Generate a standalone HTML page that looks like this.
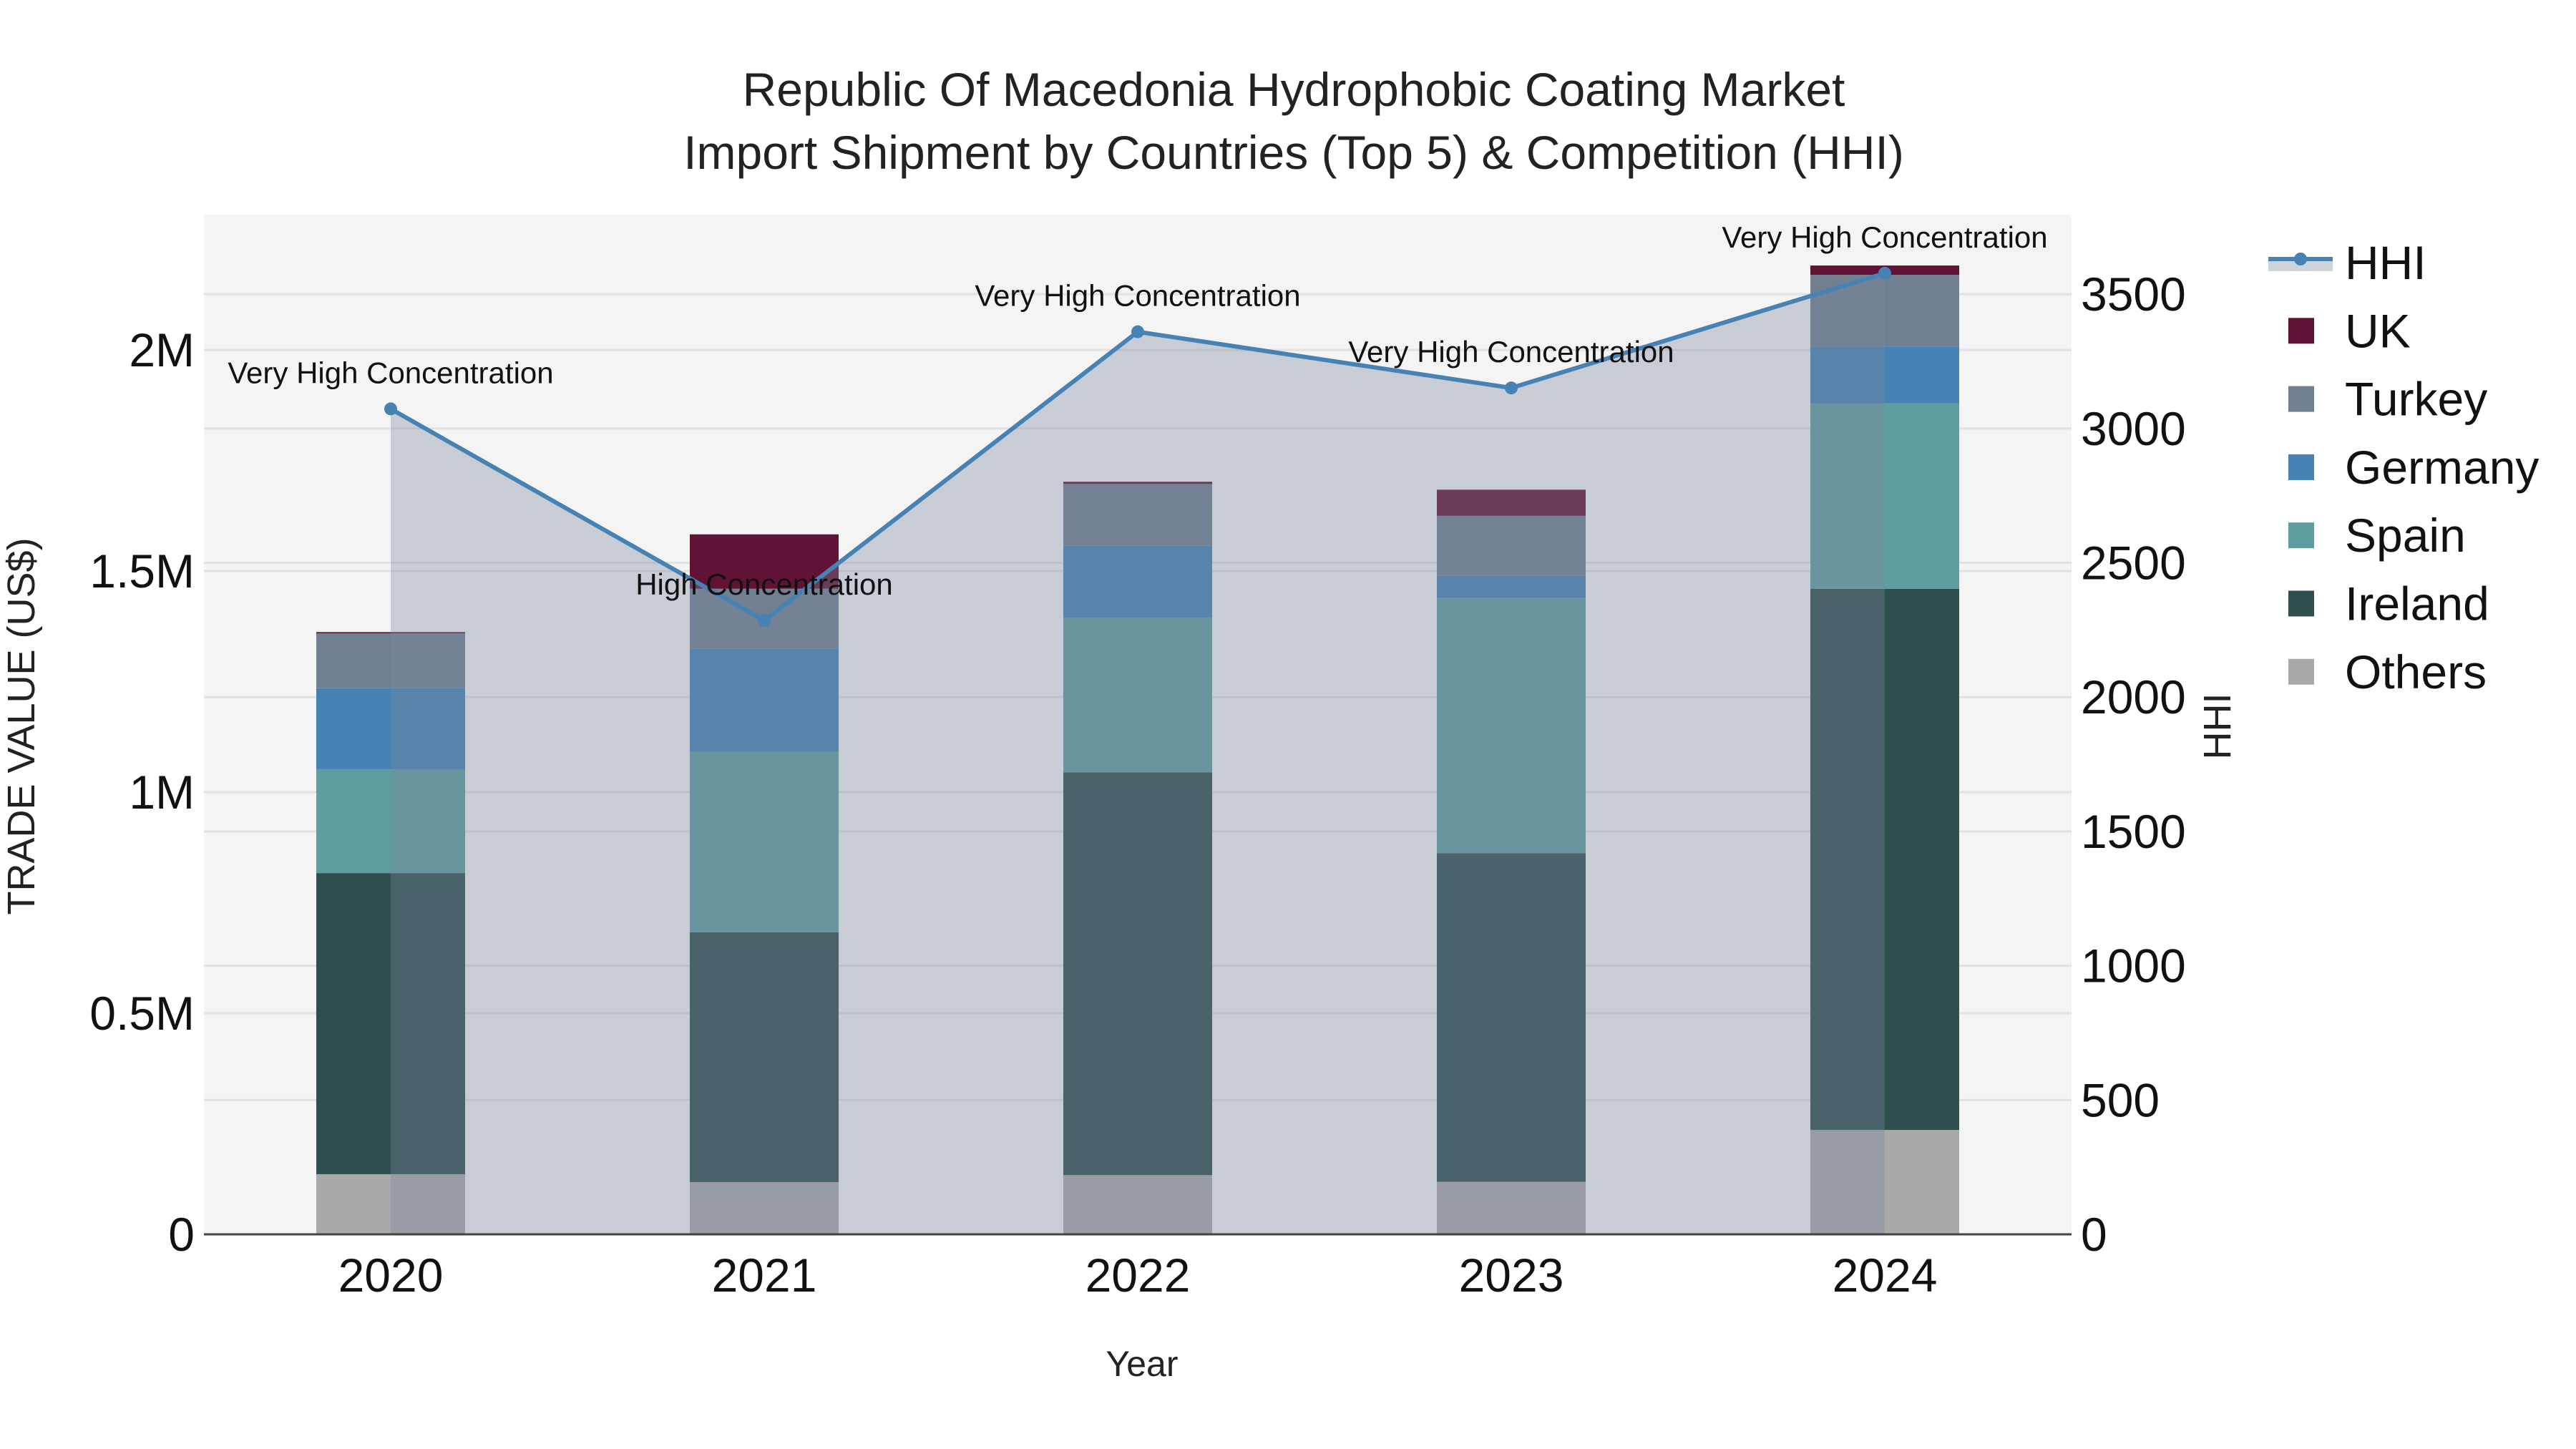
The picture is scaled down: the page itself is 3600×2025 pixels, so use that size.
<!DOCTYPE html>
<html><head><meta charset="utf-8"><style>
html,body{margin:0;padding:0;background:#fff;}
svg{display:block;font-family:"Liberation Sans",sans-serif;}
</style></head><body>
<svg id="chart" width="3600" height="2025" viewBox="0 0 3600 2025" xmlns="http://www.w3.org/2000/svg">
<rect x="285" y="300" width="2610" height="1425" fill="#f4f4f4"/>
<g id="grid"></g>
<g id="bars"></g>
<g id="hhi"></g>
<g id="axes"></g>
<text x="1808" y="148" font-size="66" text-anchor="middle" fill="#222">Republic Of Macedonia Hydrophobic Coating Market</text>
<text x="1808" y="236" font-size="66" text-anchor="middle" fill="#222">Import Shipment by Countries (Top 5) &amp; Competition (HHI)</text>
<text x="1596" y="1923" font-size="50" text-anchor="middle" fill="#222">Year</text>
<text transform="translate(48,1015) rotate(-90)" font-size="54" text-anchor="middle" fill="#222">TRADE VALUE (US$)</text>
<text transform="translate(3117,1015) rotate(-90)" font-size="54" text-anchor="middle" fill="#222">HHI</text>
<g id="legend"></g>
</svg>
<script>
const years = ["2020","2021","2022","2023","2024"];
const others  = [0.136, 0.118, 0.134, 0.119, 0.236];
const ireland = [0.681, 0.565, 0.911, 0.743, 1.224];
const spain   = [0.235, 0.408, 0.350, 0.577, 0.419];
const germany = [0.183, 0.234, 0.163, 0.050, 0.129];
const turkey  = [0.124, 0.135, 0.139, 0.136, 0.162];
const uk      = [0.003, 0.123, 0.005, 0.059, 0.021];
const hhi     = [3073, 2285, 3360, 3151, 3578];
const hhiLabels = ["Very High Concentration","High Concentration","Very High Concentration","Very High Concentration","Very High Concentration"];
const yTicks = [0, 0.5, 1, 1.5, 2];
const yTickLabels = ["0","0.5M","1M","1.5M","2M"];
const y2Ticks = [0,500,1000,1500,2000,2500,3000,3500];

const NS="http://www.w3.org/2000/svg";
const L=285,R=2895,T=300,B=1725;
const yMax=2.306, y2Max=3796;
const band=(R-L)/years.length, barW=208;
const xC=i=>L+band*(i+0.5);
const yS=v=>B-(v/yMax)*(B-T);
const y2S=v=>B-(v/y2Max)*(B-T);
function mk(tag,attrs,parent){const e=document.createElementNS(NS,tag);for(const k in attrs)e.setAttribute(k,attrs[k]);parent.appendChild(e);return e;}
const grid=document.getElementById('grid');
yTicks.forEach((t,i)=>{const l=mk('line',{x1:L,x2:R,y1:yS(t),y2:yS(t),stroke:'#e2e2e2','stroke-width':3},grid);

});
y2Ticks.forEach(t=>{const l=mk('line',{x1:L,x2:R,y1:y2S(t),y2:y2S(t),stroke:'#e2e2e2','stroke-width':3},grid);

});
const series=[["Others",others,"#a9a9a9"],["Ireland",ireland,"#2f4f4f"],["Spain",spain,"#5f9ea0"],["Germany",germany,"#4682b4"],["Turkey",turkey,"#708090"],["UK",uk,"#611335"]];
const bars=document.getElementById('bars');
years.forEach((yr,i)=>{let base=0;series.forEach(s=>{const v=s[1][i];const r=mk('rect',{x:xC(i)-barW/2,y:yS(base+v),width:barW,height:yS(base)-yS(base+v),fill:s[2]},bars);


base+=v;});});
const hg=document.getElementById('hhi');
let pts=hhi.map((v,i)=>xC(i)+','+y2S(v)).join(' ');
const area=mk('polygon',{points:xC(0)+','+B+' '+pts+' '+xC(hhi.length-1)+','+B,fill:'rgba(122,133,155,0.36)'},hg);


const line=mk('polyline',{points:pts,fill:'none',stroke:'#4682b4','stroke-width':6},hg);


hhi.forEach((v,i)=>{const c=mk('circle',{cx:xC(i),cy:y2S(v),r:9,fill:'#4682b4'},hg);


const t=mk('text',{x:xC(i),y:y2S(v)-36,'font-size':42,'text-anchor':'middle',fill:'#111'},hg);
t.textContent=hhiLabels[i];

});
const ax=document.getElementById('axes');
const zl=mk('line',{x1:L,x2:R,y1:B,y2:B,stroke:'#444','stroke-width':3},ax);


yTicks.forEach((t,i)=>{const e=mk('text',{x:272,y:yS(t)+23,'font-size':66,'text-anchor':'end',fill:'#111'},ax);e.textContent=yTickLabels[i];

});
y2Ticks.forEach(t=>{const e=mk('text',{x:2908,y:y2S(t)+23,'font-size':66,fill:'#111'},ax);e.textContent=String(t);

});
years.forEach((yr,i)=>{const e=mk('text',{x:xC(i),y:1805,'font-size':66,'text-anchor':'middle',fill:'#111'},ax);e.textContent=yr;

});
const lg=document.getElementById('legend');
const lgItems=[["HHI",null],["UK","#611335"],["Turkey","#708090"],["Germany","#4682b4"],["Spain","#5f9ea0"],["Ireland","#2f4f4f"],["Others","#a9a9a9"]];
lgItems.forEach((it,i)=>{const y=367+i*95.3;const g=mk('g',{},lg);


if(it[1]===null){mk('rect',{x:3170,y:y-2,width:90,height:14,fill:'#cfd3da'},g);mk('line',{x1:3170,x2:3260,y1:y-5,y2:y-5,stroke:'#4682b4','stroke-width':6},g);mk('circle',{cx:3215,cy:y-5,r:9,fill:'#4682b4'},g);}
else{mk('rect',{x:3198,y:y-18,width:36,height:36,fill:it[1]},g);}
const t=mk('text',{x:3277,y:y+23,'font-size':66,fill:'#111'},g);t.textContent=it[0];});
</script>
</body></html>
